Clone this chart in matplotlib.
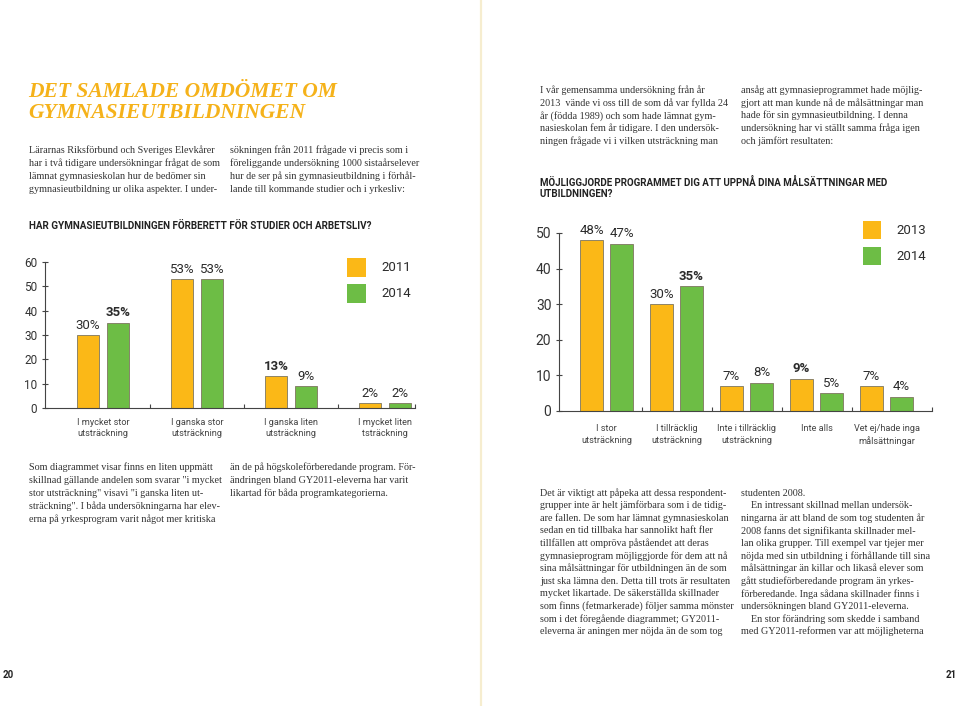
import matplotlib
matplotlib.use("Agg")
import matplotlib.pyplot as plt
import numpy as np
from matplotlib.patches import Rectangle
from matplotlib.lines import Line2D

# Chart 1: Har gymnasieutbildningen förberett för studier och arbetsliv?
cats_1 = ["I mycket stor\nutsträckning", "I ganska stor\nutsträckning",
          "I ganska liten\nutsträckning", "I mycket liten\ntsträckning"]
years_1 = ["2011", "2014"]
vals_1_a = [30, 53, 13, 2]
vals_1_b = [35, 53, 9, 2]
sig_1_a = [False, False, True, False]
sig_1_b = [True, False, False, False]

# Chart 2: Möjliggjorde programmet dig att uppnå dina målsättningar?
cats_2 = ["I stor\nutsträckning", "I tillräcklig\nutsträckning",
          "Inte i tillräcklig\nutsträckning", "Inte alls",
          "Vet ej/hade inga\nmålsättningar"]
years_2 = ["2013", "2014"]
vals_2_a = [48, 30, 7, 9, 7]
vals_2_b = [47, 35, 8, 5, 4]
sig_2_a = [False, False, False, True, False]
sig_2_b = [False, True, False, False, False]

title_lines = ["DET SAMLADE OMDÖMET OM", "GYMNASIEUTBILDNINGEN"]

intro_left_1 = ["Lärarnas Riksförbund och Sveriges Elevkårer",
                "har i två tidigare undersökningar frågat de som",
                "lämnat gymnasieskolan hur de bedömer sin",
                "gymnasieutbildning ur olika aspekter. I under-"]
intro_left_2 = ["sökningen från 2011 frågade vi precis som i",
                "föreliggande undersökning 1000 sistaårselever",
                "hur de ser på sin gymnasieutbildning i förhål-",
                "lande till kommande studier och i yrkesliv:"]
intro_right_1 = ["I vår gemensamma undersökning från år",
                 "2013  vände vi oss till de som då var fyllda 24",
                 "år (födda 1989) och som hade lämnat gym-",
                 "nasieskolan fem år tidigare. I den undersök-",
                 "ningen frågade vi i vilken utsträckning man"]
intro_right_2 = ["ansåg att gymnasieprogrammet hade möjlig-",
                 "gjort att man kunde nå de målsättningar man",
                 "hade för sin gymnasieutbildning. I denna",
                 "undersökning har vi ställt samma fråga igen",
                 "och jämfört resultaten:"]
body_left_1 = ["Som diagrammet visar finns en liten uppmätt",
               "skillnad gällande andelen som svarar \"i mycket",
               "stor utsträckning\" visavi \"i ganska liten ut-",
               "sträckning\". I båda undersökningarna har elev-",
               "erna på yrkesprogram varit något mer kritiska"]
body_left_2 = ["än de på högskoleförberedande program. För-",
               "ändringen bland GY2011-eleverna har varit",
               "likartad för båda programkategorierna."]
body_right_1 = ["Det är viktigt att påpeka att dessa respondent-",
                "grupper inte är helt jämförbara som i de tidig-",
                "are fallen. De som har lämnat gymnasieskolan",
                "sedan en tid tillbaka har sannolikt haft fler",
                "tillfällen att ompröva påståendet att deras",
                "gymnasieprogram möjliggjorde för dem att nå",
                "sina målsättningar för utbildningen än de som",
                "just ska lämna den. Detta till trots är resultaten",
                "mycket likartade. De säkerställda skillnader",
                "som finns (fetmarkerade) följer samma mönster",
                "som i det föregående diagrammet; GY2011-",
                "eleverna är aningen mer nöjda än de som tog"]
body_right_2 = ["studenten 2008.",
                "    En intressant skillnad mellan undersök-",
                "ningarna är att bland de som tog studenten år",
                "2008 fanns det signifikanta skillnader mel-",
                "lan olika grupper. Till exempel var tjejer mer",
                "nöjda med sin utbildning i förhållande till sina",
                "målsättningar än killar och likaså elever som",
                "gått studieförberedande program än yrkes-",
                "förberedande. Inga sådana skillnader finns i",
                "undersökningen bland GY2011-eleverna.",
                "    En stor förändring som skedde i samband",
                "med GY2011-reformen var att möjligheterna"]

ORANGE = "#FBB817"
GREEN = "#6DBD45"
EDGE = "#7d7660"
DARK = "#2b2b2b"
SANS = ["Roboto", "DejaVu Sans"]
SERIF = ["Liberation Serif", "DejaVu Serif"]

plt.rcParams["font.family"] = SANS

W, H = 960, 706
fig = plt.figure(figsize=(9.6, 7.06), dpi=100)
fig.patch.set_facecolor("white")


def fx(x):
    return x / W


def fy(y):
    return 1 - y / H


def text_block(lines, x, y0, step, size=7.3):
    for i, line in enumerate(lines):
        fig.text(fx(x), fy(y0 + i * step), line, family=SERIF, fontsize=size,
                 color="#333333", ha="left", va="center")


# page divider
fig.add_artist(Line2D([fx(481), fx(481)], [0, 1], color="#F6EDCF", lw=1.6))

# title
for i, line in enumerate(title_lines):
    fig.text(fx(28), fy(92 + i * 21), line, family=SERIF,
             fontweight="bold", style="italic", fontsize=15.5, color="#F5B21A",
             ha="left", va="center")

text_block(intro_left_1, 29, 150, 13.2)
text_block(intro_left_2, 230, 150, 13.2)
text_block(intro_right_1, 540, 90, 12.8)
text_block(intro_right_2, 741, 90, 12.8)
text_block(body_left_1, 29, 467, 13.1)
text_block(body_left_2, 230, 467, 13.1)
text_block(body_right_1, 540, 493, 12.6)
text_block(body_right_2, 741, 493, 12.6)

# chart headers
fig.text(fx(29), fy(226), "HAR GYMNASIEUTBILDNINGEN FÖRBERETT FÖR STUDIER OCH ARBETSLIV?",
         fontweight="bold", fontsize=7.1, color="#222222", ha="left", va="center")
fig.text(fx(540), fy(182), "MÖJLIGGJORDE PROGRAMMET DIG ATT UPPNÅ DINA MÅLSÄTTNINGAR MED",
         fontweight="bold", fontsize=7, color="#222222", ha="left", va="center")
fig.text(fx(540), fy(194), "UTBILDNINGEN?",
         fontweight="bold", fontsize=7, color="#222222", ha="left", va="center")

# page numbers
fig.text(fx(3), fy(675), "20", fontweight="bold", fontsize=7, color="#222222",
         ha="left", va="center")
fig.text(fx(957), fy(675), "21", fontweight="bold", fontsize=7, color="#222222",
         ha="right", va="center")


def bar_chart(ax, cats, a, b, sig_a, sig_b, xlim, ymax, width, off,
              tick_size, val_size, cat_size, cat_pad):
    x = np.arange(len(cats))
    ba = ax.bar(x - off, a, width, color=ORANGE, edgecolor=EDGE, linewidth=0.6)
    bb = ax.bar(x + off, b, width, color=GREEN, edgecolor=EDGE, linewidth=0.6)
    for bars, vals, sig in ((ba, a, sig_a), (bb, b, sig_b)):
        for rect, v, s in zip(bars, vals, sig):
            ax.annotate(f"{v}%", (rect.get_x() + rect.get_width() / 2, v),
                        xytext=(0, 2.5), textcoords="offset points",
                        ha="center", va="bottom", fontsize=val_size,
                        fontweight="bold" if s else "normal", color=DARK,
                        annotation_clip=False)
    ax.set_xlim(*xlim)
    ax.set_ylim(0, ymax)
    ax.set_yticks(np.arange(0, ymax + 1, 10))
    ax.set_xticks(x)
    ax.set_xticklabels(cats, fontsize=cat_size, color="#444444",
                       linespacing=1.35)
    ax.set_xticks(list(x[:-1] + 0.5) + [xlim[1]], minor=True)
    ax.tick_params(axis="x", which="major", length=0, pad=cat_pad)
    ax.tick_params(axis="x", which="minor", direction="in", length=3,
                   color="#444444", width=0.8)
    ax.tick_params(axis="y", direction="inout", length=5, width=0.8,
                   color="#444444", labelsize=tick_size, labelcolor="#333333",
                   pad=3)
    for side in ("top", "right"):
        ax.spines[side].set_visible(False)
    for side in ("left", "bottom"):
        ax.spines[side].set_color("#444444")
        ax.spines[side].set_linewidth(0.8)
    ax.set_facecolor("none")


ax1 = fig.add_axes([fx(45), fy(408), (415 - 45) / W, (408 - 262) / H])
bar_chart(ax1, cats_1, vals_1_a, vals_1_b, sig_1_a, sig_1_b,
          (-0.617, 3.32), 60, 0.234, 0.16, 8.5, 9.5, 6.6, 7)

ax2 = fig.add_axes([fx(559), fy(411), (932 - 559) / W, (411 - 233) / H])
bar_chart(ax2, cats_2, vals_2_a, vals_2_b, sig_2_a, sig_2_b,
          (-0.679, 4.65), 50, 0.33, 0.214, 10, 9.5, 6.6, 9.5)


def legend(x, y_first, step, size, labels):
    for i, (lab, col) in enumerate(zip(labels, (ORANGE, GREEN))):
        y = y_first + i * step
        fig.add_artist(Rectangle((fx(x), fy(y + size)), size / W, size / H,
                                 facecolor=col, edgecolor="none",
                                 transform=fig.transFigure))
        fig.text(fx(x + size + 15), fy(y + size / 2), lab, fontsize=9.5,
                 color=DARK, ha="left", va="center")


legend(347, 258, 26, 19, years_1)
legend(863, 221, 26, 18, years_2)

fig.savefig("out.png", dpi=100, facecolor="white")
